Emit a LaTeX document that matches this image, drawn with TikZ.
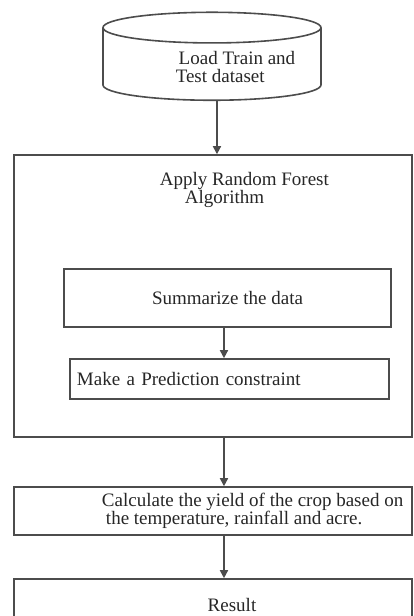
\documentclass[tikz,border=0pt]{standalone}
\usepackage{fontspec}
\setmainfont{Liberation Serif}
\usetikzlibrary{%
  arrows.meta,%
  shapes.geometric,% wg. cylinder
  positioning%
}

\begin{document}
\begin{tikzpicture}[
  font=\fontsize{9.5}{9}\selectfont,
  >={Triangle[length=4pt,width=4pt]},
  line width=0.8pt,
  box/.style={rectangle, draw=black!70, inner sep=0pt, text=black!85},
  dbshape/.style={cylinder, shape border rotate=90, aspect=2.3, draw=black!70},
  txt/.style={inner sep=0pt, text=black!85},
  flow/.style={->, draw=black!70},
]

\useasboundingbox (0,0) rectangle (7.258,10.825);

% database
\node[dbshape, minimum width=3.831cm, minimum height=1.546cm] (db) at (3.725,9.648) {};
\node[txt, align=left] (dbtext) at ([xshift=11.75pt]db.center)
  {\hspace*{1.5pt}Load Train and\\Test dataset};

% random forest block
\node[box, minimum width=6.994cm, minimum height=4.956cm] (algo) at (3.743,5.623) {};
\node[txt, align=left, anchor=north west] (algotitle)
  at ([xshift=73pt,yshift=-8.5pt]algo.north west)
  {Apply Random Forest\\\hspace*{12.5pt}Algorithm};
\node[box, minimum width=5.746cm, minimum height=1.019cm] (sum) at (3.998,5.588)
  {Summarize the data};
\node[box, inner xsep=3.5pt, text width=5.606cm-7pt, minimum height=0.703cm, align=left]
  (pred) at (4.033,4.165) {Make a Prediction constraint};

% yield and result
\node[box, minimum width=6.994cm, minimum height=0.843cm] (calc) at (3.743,1.845) {};
\node[txt, align=left, anchor=west] (calctext) at ([xshift=44pt]calc.west)
  {Calculate the yield of the crop based on\\
   \hspace*{2pt}the temperature, rainfall and acre.};
\node[box, minimum width=6.994cm, minimum height=0.896cm] (result) at (3.743,0.202)
  {\hspace*{19pt}Result};

\coordinate (spine) at (3.936,0);

\draw[flow] ([xshift=2.5pt]db.south) -- ([xshift=2.5pt]db.south |- algo.north);
\draw[flow] (spine |- sum.south) -- (spine |- pred.north);
\draw[flow] (spine |- algo.south) -- (spine |- calc.north);
\draw[flow] (spine |- calc.south) -- (spine |- result.north);

\end{tikzpicture}
\end{document}
